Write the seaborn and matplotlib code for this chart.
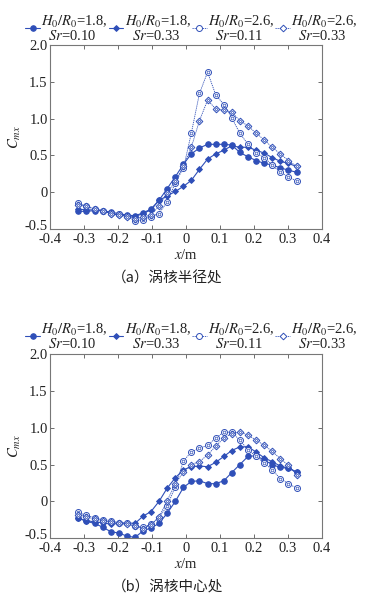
import matplotlib
matplotlib.use("Agg")
import matplotlib.pyplot as plt
from matplotlib import font_manager
import matplotlib.transforms as mtransforms
import seaborn as sns
import numpy as np

# measurement positions (m)
x_pos = [-0.318, -0.294, -0.270, -0.246, -0.223, -0.199, -0.175, -0.151, -0.127, -0.104,
         -0.080, -0.056, -0.032, -0.008, 0.015, 0.039, 0.063, 0.087, 0.111, 0.134,
         0.158, 0.182, 0.206, 0.230, 0.253, 0.277, 0.301, 0.325]

# (a) vortex core radius
a_18_010 = [-0.26, -0.26, -0.25, -0.25, -0.27, -0.29, -0.31, -0.32, -0.28, -0.23,
            -0.11, 0.05, 0.21, 0.38, 0.52, 0.60, 0.65, 0.65, 0.65, 0.64,
            0.54, 0.48, 0.43, 0.39, 0.37, 0.33, 0.30, 0.27]
a_18_033 = [-0.23, -0.24, -0.24, -0.25, -0.29, -0.31, -0.32, -0.33, -0.29, -0.24,
            -0.11, -0.05, 0.01, 0.08, 0.16, 0.31, 0.45, 0.52, 0.57, 0.63,
            0.61, 0.61, 0.57, 0.53, 0.47, 0.42, 0.39, 0.35]
a_26_011 = [-0.15, -0.19, -0.23, -0.25, -0.28, -0.30, -0.32, -0.39, -0.38, -0.33,
            -0.29, -0.13, 0.13, 0.33, 0.80, 1.34, 1.63, 1.32, 1.19, 1.01,
            0.80, 0.65, 0.53, 0.47, 0.37, 0.27, 0.21, 0.15]
a_26_033 = [-0.17, -0.19, -0.23, -0.25, -0.29, -0.31, -0.33, -0.36, -0.34, -0.31,
            -0.19, -0.01, 0.15, 0.35, 0.61, 0.97, 1.25, 1.13, 1.11, 1.09,
            0.97, 0.90, 0.80, 0.71, 0.61, 0.52, 0.43, 0.35]

# (b) vortex core centre
b_18_010 = [-0.23, -0.27, -0.30, -0.35, -0.41, -0.43, -0.47, -0.49, -0.40, -0.36,
            -0.30, -0.16, 0.00, 0.19, 0.27, 0.28, 0.24, 0.24, 0.28, 0.39,
            0.50, 0.61, 0.62, 0.56, 0.50, 0.46, 0.45, 0.40]
b_18_033 = [-0.23, -0.26, -0.28, -0.29, -0.31, -0.30, -0.29, -0.30, -0.20, -0.14,
            0.00, 0.18, 0.32, 0.43, 0.47, 0.48, 0.47, 0.53, 0.61, 0.69,
            0.74, 0.74, 0.67, 0.59, 0.54, 0.48, 0.45, 0.40]
b_26_011 = [-0.15, -0.19, -0.22, -0.25, -0.26, -0.29, -0.30, -0.34, -0.35, -0.31,
            -0.22, -0.06, 0.20, 0.55, 0.67, 0.72, 0.76, 0.86, 0.94, 0.94,
            0.83, 0.70, 0.61, 0.52, 0.43, 0.31, 0.24, 0.18]
b_26_033 = [-0.18, -0.21, -0.24, -0.26, -0.28, -0.30, -0.31, -0.33, -0.37, -0.32,
            -0.21, 0.01, 0.24, 0.40, 0.50, 0.54, 0.63, 0.75, 0.86, 0.92,
            0.94, 0.90, 0.83, 0.76, 0.68, 0.58, 0.49, 0.36]

labels = [r"$H_0/R_0$=1.8," + "\n" + r"  $Sr$=0.10",
          r"$H_0/R_0$=1.8," + "\n" + r"  $Sr$=0.33",
          r"$H_0/R_0$=2.6," + "\n" + r"  $Sr$=0.11",
          r"$H_0/R_0$=2.6," + "\n" + r"  $Sr$=0.33"]
captions = ["（a）涡核半径处", "（b）涡核中心处"]

blue = "#2f4fb8"
styles = [
    dict(marker="o", ms=4.0, mfc=blue, ls="-", lw=0.8, inner=False),
    dict(marker="D", ms=3.0, mfc=blue, ls="-", lw=0.8, inner=False),
    dict(marker="o", ms=4.3, mfc="white", ls=(0, (1.5, 1.0)), lw=0.6, inner=True),
    dict(marker="D", ms=3.4, mfc="white", ls=(0, (1.5, 1.0)), lw=0.6, inner=True),
]

# make sure the Times-like serif is registered
for f in font_manager.findSystemFonts():
    if "LiberationSerif" in f.replace(" ", ""):
        try:
            font_manager.fontManager.addfont(f)
        except Exception:
            pass

sns.set_theme(style="ticks")
plt.rcParams['font.family'] = ['Liberation Serif', 'DejaVu Serif', 'Noto Sans CJK SC']
plt.rcParams['mathtext.fontset'] = 'stix'
plt.rcParams['axes.unicode_minus'] = False

fig = plt.figure(figsize=(3.68, 5.98), dpi=100)
panels = [(a_18_010, a_18_033, a_26_011, a_26_033),
          (b_18_010, b_18_033, b_26_011, b_26_033)]
ax_boxes = [[0.137, 0.617, 0.738, 0.308], [0.137, 0.100, 0.738, 0.308]]
leg_y = [0.992, 0.477]
cap_y = [0.535, 0.020]

for p, series in enumerate(panels):
    ax = fig.add_axes(ax_boxes[p])
    for s, yv in enumerate(series):
        st = styles[s]
        sns.lineplot(x=x_pos, y=yv, ax=ax, color=blue, marker=st["marker"],
                     markersize=st["ms"], markerfacecolor=st["mfc"], markeredgecolor=blue,
                     markeredgewidth=0.7, linestyle=st["ls"], linewidth=st["lw"],
                     label=labels[s], sort=False, estimator=None)
        if st["inner"]:
            # inner ring of the open markers
            sns.lineplot(x=x_pos, y=yv, ax=ax, color=blue, marker=st["marker"],
                         markersize=st["ms"] * 0.45, markerfacecolor="none",
                         markeredgecolor=blue, markeredgewidth=0.5, linestyle="none",
                         sort=False, estimator=None, legend=False)
    ax.set_xlim(-0.4, 0.4)
    ax.set_ylim(-0.5, 2.0)
    ax.set_xticks([-0.4, -0.3, -0.2, -0.1, 0, 0.1, 0.2, 0.3, 0.4])
    ax.set_xticklabels(["-0.4", "-0.3", "-0.2", "-0.1", "0", "0.1", "0.2", "0.3", "0.4"])
    ax.set_yticks([-0.5, 0, 0.5, 1.0, 1.5, 2.0])
    ax.set_yticklabels(["-0.5", "0", "0.5", "1.0", "1.5", "2.0"])
    ax.tick_params(direction="in", top=True, right=True, length=3, width=0.6,
                   color="#555555", labelsize=10.5, labelcolor="#222222")
    ax.tick_params(axis="x", pad=3)
    ax.tick_params(axis="y", pad=2)
    # nudge the corner labels apart a little, as in the original
    up = mtransforms.ScaledTranslation(0, 3 / 72, fig.dpi_scale_trans)
    lab = ax.get_yticklabels()[0]
    lab.set_transform(lab.get_transform() + up)
    for sp in ax.spines.values():
        sp.set_color("#777777")
        sp.set_linewidth(0.8)
    ax.set_xlabel(r"$x$/m", fontsize=10.5, labelpad=1, color="#222222")
    ax.set_ylabel(r"$C_{mx}$", fontsize=10.5, labelpad=1, color="#222222")
    ax.legend(ncol=4, loc="upper left", bbox_to_anchor=(0.045, leg_y[p]),
              bbox_transform=fig.transFigure, frameon=False, fontsize=10.5,
              handlelength=1.0, handletextpad=0.1, columnspacing=0.05,
              borderpad=0.1, labelspacing=0.2)
    for t in ax.get_legend().get_texts():
        t.set_color("#222222")
        t.set_linespacing(0.9)
    fig.text(0.455, cap_y[p], captions[p], ha="center", va="center", fontsize=10.5,
             family=['Noto Sans CJK SC'], color="#222222")

fig.savefig("out.png", dpi=100, facecolor="white")
